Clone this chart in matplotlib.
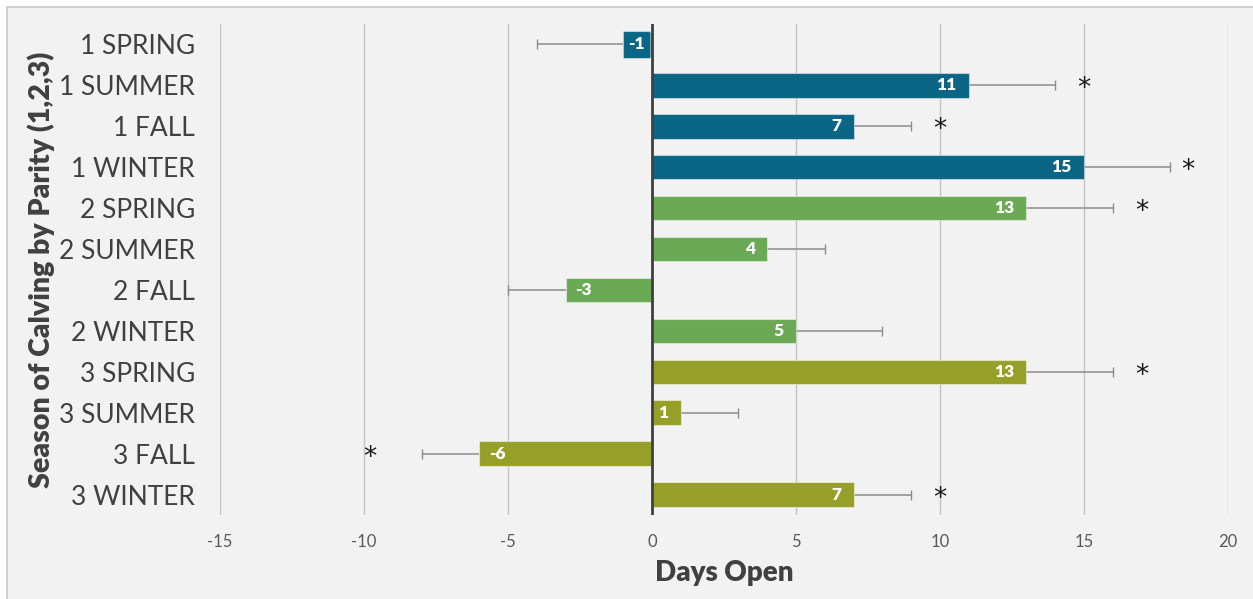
import matplotlib
matplotlib.use("Agg")
import matplotlib.pyplot as plt
from matplotlib.patches import Rectangle

# Days open relative to reference, by season of calving and parity
categories = ["1 SPRING", "1 SUMMER", "1 FALL", "1 WINTER",
              "2 SPRING", "2 SUMMER", "2 FALL", "2 WINTER",
              "3 SPRING", "3 SUMMER", "3 FALL", "3 WINTER"]
days_open = [-1, 11, 7, 15, 13, 4, -3, 5, 13, 1, -6, 7]
std_error = [3, 3, 2, 3, 3, 2, 2, 3, 3, 2, 2, 2]
parity = [1, 1, 1, 1, 2, 2, 2, 2, 3, 3, 3, 3]
significant = [False, True, True, True, True, False, False, False, True, False, True, True]
x_ticks = [-15, -10, -5, 0, 5, 10, 15, 20]

parity_colors = {1: "#0b6585", 2: "#6aaa54", 3: "#96a028"}

W, H = 1253, 599
fig = plt.figure(figsize=(W / 100, H / 100), dpi=100, facecolor="white")

# chart area panel with thin border
fig.patches.append(Rectangle((7 / W, -0.01), 1.02, (H - 7) / H + 0.01,
                             transform=fig.transFigure, facecolor="#f2f2f2",
                             edgecolor="#c8c8c8", linewidth=1.2, zorder=-10))

ax = fig.add_axes([220 / W, 1 - 515 / H, (1228 - 220) / W, (515 - 24) / H])
ax.set_facecolor("none")

label_font = "Lato"
ypos = list(range(len(categories)))
colors = [parity_colors[p] for p in parity]

ax.barh(ypos, days_open, height=0.6, color=colors,
        edgecolor=(1, 1, 1, 0.45), linewidth=0.8, zorder=3)

# one-sided error bars pointing away from zero, capped at the far end only
err_end = [v + e if v >= 0 else v - e for v, e in zip(days_open, std_error)]
ax.hlines(ypos, days_open, err_end, color="#8c8c8c", linewidth=1.1, zorder=2)
ax.plot(err_end, ypos, linestyle="none", marker="|", markersize=7,
        markeredgewidth=1.0, color="#8c8c8c", zorder=2)

# value labels inside the bar ends; a short bar gets a filled label box
for y, v, c in zip(ypos, days_open, colors):
    short = abs(v) < 2
    if v >= 0:
        ax.annotate(f"{v}", (v, y), xytext=(-9, 0), textcoords="offset points",
                    ha="right", va="center", color="white", fontsize=12.5,
                    fontweight="heavy", family=label_font, zorder=5)
    else:
        ax.annotate(f"{v}", (v, y), xytext=(3.5 if short else 7, 0),
                    textcoords="offset points",
                    ha="left", va="center", color="white", fontsize=12.5,
                    fontweight="heavy", family=label_font, zorder=5,
                    bbox=dict(boxstyle="square,pad=0.3", facecolor=c,
                              edgecolor=(1, 1, 1, 0.45), linewidth=0.8)
                    if short else None)

# significance markers beyond the error bars
star_gap = {3: 0.6, 10: 1.8}
for i, (v, end, s) in enumerate(zip(days_open, err_end, significant)):
    if not s:
        continue
    gap = star_gap.get(i, 1.0)
    sx = end + gap if v >= 0 else end - gap
    ax.text(sx, i + 0.1, "*", ha="center", va="center", fontsize=19,
            color="#1a1a1a", family="DejaVu Sans", zorder=5)

ax.set_xlim(-15, 20)
ax.set_ylim(len(categories) - 0.5, -0.5)
ax.set_xticks(x_ticks)
ax.set_xticklabels([str(t) for t in x_ticks])
ax.set_yticks(ypos)
ax.set_yticklabels(categories)

ax.grid(axis="x", color="#c4c4c4", linewidth=1.0, zorder=0)
ax.axvline(0, color="#404040", linewidth=2.0, zorder=4)
for sp in ax.spines.values():
    sp.set_visible(False)
ax.tick_params(axis="both", length=0)
ax.tick_params(axis="y", pad=18, labelsize=19, labelcolor="#404040")
ax.tick_params(axis="x", pad=14, labelsize=12, labelcolor="#595959")
for lab in ax.get_yticklabels() + ax.get_xticklabels():
    lab.set_family(label_font)

ax.set_xlabel("Days Open", fontsize=20, fontweight="heavy", color="#404040",
              family=label_font, labelpad=7)
ax.set_ylabel("Season of Calving by Parity (1,2,3)", fontsize=20.5,
              fontweight="heavy", color="#404040", family=label_font)
ax.yaxis.set_label_coords((55 - 220) / (1228 - 220), 0.5)

fig.savefig("out.png", dpi=100, facecolor=fig.get_facecolor())
